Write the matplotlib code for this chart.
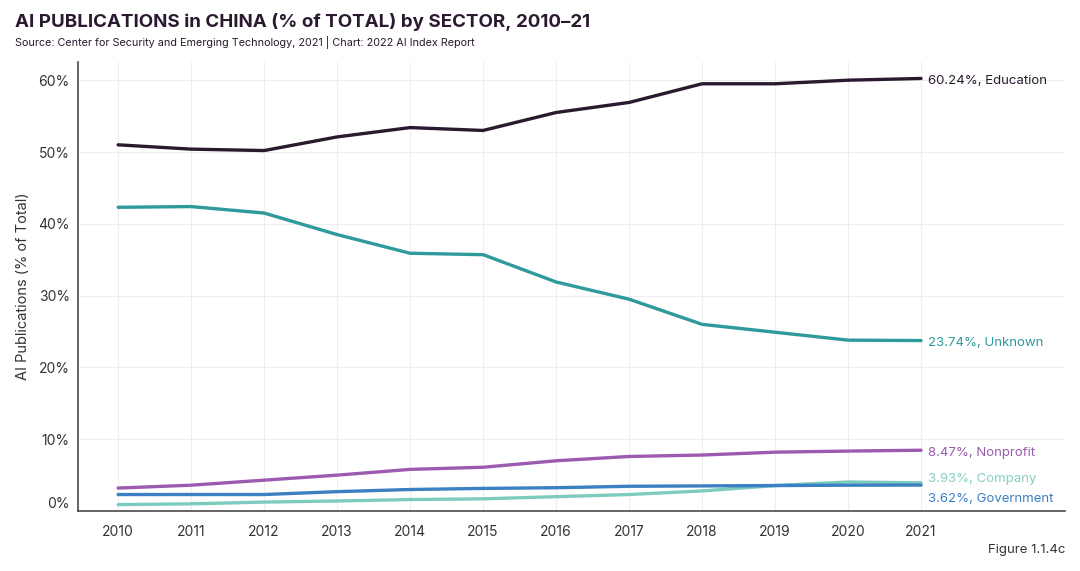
import matplotlib
matplotlib.use('Agg')
import matplotlib.pyplot as plt
import matplotlib.transforms as mtransforms

plt.rcParams['font.family'] = ['Inter', 'DejaVu Sans']

years = [2010, 2011, 2012, 2013, 2014, 2015, 2016, 2017, 2018, 2019, 2020, 2021]
education = [51.0, 50.4, 50.2, 52.1, 53.4, 53.0, 55.5, 56.9, 59.5, 59.5, 60.0, 60.24]
unknown = [42.3, 42.4, 41.5, 38.5, 35.9, 35.7, 31.9, 29.5, 26.0, 24.9, 23.8, 23.74]
nonprofit = [3.2, 3.6, 4.3, 5.0, 5.8, 6.1, 7.0, 7.6, 7.8, 8.2, 8.35, 8.47]
government = [2.3, 2.3, 2.3, 2.7, 3.0, 3.15, 3.25, 3.45, 3.5, 3.55, 3.6, 3.62]
company = [0.9, 1.0, 1.25, 1.4, 1.6, 1.7, 2.0, 2.3, 2.8, 3.55, 4.05, 3.93]

series = [
    ('Education', education, '#2b1a2f', '#2b1a2f', -2),
    ('Unknown', unknown, '#2e9a9b', '#2e9a9b', -2),
    ('Nonprofit', nonprofit, '#9c5bb0', '#9c5bb0', -2),
    ('Government', government, '#3b80c2', '#3b80c2', -10),
    ('Company', company, '#7dcbbf', '#86cfc5', 3),
]

fig = plt.figure(figsize=(10.8, 5.71), dpi=100)
ax = fig.add_axes([0.0722, 0.105, 0.9138, 0.786])

# company drawn before government so the blue sits on top at the left
for name, vals, col, lcol, dy in [series[0], series[1], series[2], series[4], series[3]]:
    ax.plot(years, vals, color=col, lw=2.4, solid_capstyle='round', zorder=3)
    off = mtransforms.offset_copy(ax.transData, fig=fig, x=5, y=dy, units='points')
    ax.text(years[-1], vals[-1], '%.2f%%, %s' % (vals[-1], name), transform=off,
            color=lcol, fontsize=9.5, va='center', ha='left')

ax.set_xlim(2009.45, 2022.97)
ax.set_ylim(0, 62.5)
ax.set_xticks(years)
ax.set_yticks([0, 10, 20, 30, 40, 50, 60])
ax.set_yticklabels(['0%', '10%', '20%', '30%', '40%', '50%', '60%'])
ax.tick_params(axis='both', length=0, labelsize=10, colors='#333333')
ax.tick_params(axis='y', pad=6)
ax.tick_params(axis='x', pad=10)
ax.grid(True, color='#eeeeee', lw=0.8)
ax.set_axisbelow(True)
for s in ['top', 'right']:
    ax.spines[s].set_visible(False)
for s in ['left', 'bottom']:
    ax.spines[s].set_color('#4a4a4a')
    ax.spines[s].set_linewidth(1.2)

# lift the 0% label off the axis line
lbl0 = ax.get_yticklabels()[0]
lbl0.set_transform(lbl0.get_transform() + mtransforms.ScaledTranslation(0, 6 / 72, fig.dpi_scale_trans))

ax.set_ylabel('AI Publications (% of Total)', fontsize=10.5, color='#333333', labelpad=6)

fig.text(0.014, 0.962, 'AI PUBLICATIONS in CHINA (% of TOTAL) by SECTOR, 2010\u201321',
         fontsize=13.5, fontweight='bold', color='#2b1a2f', va='center')
fig.text(0.014, 0.925, 'Source: Center for Security and Emerging Technology, 2021 | Chart: 2022 AI Index Report',
         fontsize=7.8, color='#2b1a2f', va='center')
fig.text(0.986, 0.037, 'Figure 1.1.4c', fontsize=9.5, color='#333333', ha='right', va='center')

fig.savefig('out.png', dpi=100, facecolor='white')
